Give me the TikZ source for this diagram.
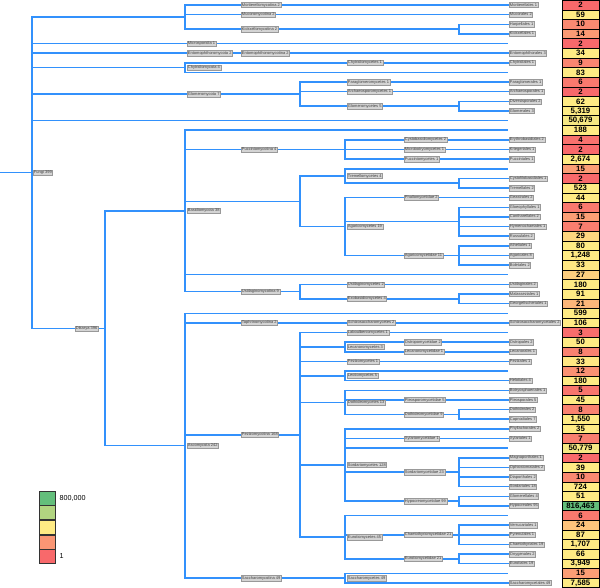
\documentclass[tikz,border=0pt]{standalone}
\usepackage{fontspec}
\setmainfont{Liberation Sans}
\usetikzlibrary{positioning,backgrounds}
\definecolor{treeblue}{RGB}{50,145,252}
\definecolor{cRed}{RGB}{248,105,107}
\definecolor{cYel}{RGB}{255,235,132}
\definecolor{cGrn}{RGB}{99,190,123}
\definecolor{lblgray}{RGB}{212,212,212}
\tikzstyle{branch}=[draw=treeblue,line width=1.5pt,to path={|- (\tikztotarget)}]
\tikzstyle{taxon}=[anchor=west,fill=lblgray,draw=black!40,line width=0.3pt,inner sep=0.8pt,text height=2.9pt,text depth=0.8pt,font=\fontsize{4}{4.5}\selectfont,text=black!75]
\tikzstyle{cnt}=[draw=black,line width=0.6pt,minimum width=37pt,minimum height=9.633pt,inner sep=0pt,font=\fontsize{7.8}{8}\selectfont\bfseries]
\tikzstyle{legbox}=[draw=black!80,line width=0.6pt,minimum width=16pt,minimum height=14pt,inner sep=0pt]
\tikzstyle{legtxt}=[inner sep=0pt,font=\fontsize{7.2}{8}\selectfont]

\begin{document}
\begin{tikzpicture}[x=1pt,y=-9.633pt]
\useasboundingbox (0,0.481) rectangle (600,61.52);

% branch points
\coordinate (root) at (0,18.406);
\coordinate (fungi) at (32,18.406);
\coordinate (mucgrp) at (185,2.25);
\coordinate (kickx) at (459,3.5);
\coordinate (chytrid) at (185,7.5);
\coordinate (glomero) at (300,10.25);
\coordinate (glomcet) at (459,11.5);
\coordinate (dikarya) at (105,34.5625);
\coordinate (basidio) at (185,22.375);
\coordinate (puccinio) at (345,16);
\coordinate (agarico) at (300,21.375);
\coordinate (tremello) at (345,18.75);
\coordinate (tremsub) at (459,19.5);
\coordinate (agaricet) at (345,24);
\coordinate (agarsub) at (459,23.5);
\coordinate (agaridae) at (459,27);
\coordinate (ustilago) at (300,30.75);
\coordinate (exobasid) at (459,31.5);
\coordinate (asco) at (185,46.75);
\coordinate (pezizo) at (300,45.625);
\coordinate (lecano) at (345,36.5);
\coordinate (leotio) at (345,39.5);
\coordinate (dothid) at (345,42.25);
\coordinate (dothdae) at (459,43.5);
\coordinate (sordario) at (345,48.75);
\coordinate (sorddae) at (459,49.5);
\coordinate (hypodae) at (459,52.5);
\coordinate (euroti) at (345,56.25);
\coordinate (chaeto) at (459,56);
\coordinate (eurodae) at (459,58.5);
\coordinate (sacchcet) at (345,60.5);

% rows without an order
\coordinate (u5) at (508,5);
\coordinate (u8) at (508,8);
\coordinate (u13) at (508,13);
\coordinate (u14) at (508,14);
\coordinate (u18) at (508,18);
\coordinate (u29) at (508,29);
\coordinate (u33) at (508,33);
\coordinate (u35) at (508,35);
\coordinate (u39) at (508,39);
\coordinate (u47) at (508,47);
\coordinate (u54) at (508,54);
\coordinate (u60) at (508,60);

% higher taxa
\node[taxon] (fungi-t) at (33,18.406) {Fungi 399};
\node[taxon] (dikarya-t) at (75,34.5625) {Dikarya 396};
\node[taxon] (mort-t) at (241,1) {Mortierellomycotina 2};
\node[taxon] (mucor-t) at (241,2) {Mucoromycotina 2};
\node[taxon] (kickx-t) at (241,3.5) {Kickxellomycotina 2};
\node[taxon] (micro-t) at (187,5) {Microsporidia 1};
\node[taxon] (ento-t) at (187,6) {Entomophthoromycota 2};
\node[taxon] (entotina-t) at (241,6) {Entomophthoromycotina 2};
\node[taxon] (chytrid-t) at (187,7.5) {Chytridiomycota 4};
\node[taxon] (chytcet-t) at (347,7) {Chytridiomycetes 1};
\node[taxon] (glomero-t) at (187,10.25) {Glomeromycota 7};
\node[taxon] (paraglo-t) at (347,9) {Paraglomeromycetes 1};
\node[taxon] (archaeo-t) at (347,10) {Archaeosporomycetes 1};
\node[taxon] (glomcet-t) at (347,11.5) {Glomeromycetes 5};
\node[taxon] (basidio-t) at (187,22.375) {Basidiomycota 38};
\node[taxon] (puccinio-t) at (241,16) {Pucciniomycotina 4};
\node[taxon] (cystob-t) at (404,15) {Cystobasidiomycetes 2};
\node[taxon] (microb-t) at (404,16) {Microbotryomycetes 1};
\node[taxon] (pucccet-t) at (404,17) {Pucciniomycetes 1};
\node[taxon] (tremello-t) at (347,18.75) {Tremellomycetes 4};
\node[taxon] (agaricet-t) at (347,24) {Agaricomycetes 19};
\node[taxon] (phallo-t) at (404,21) {Phallomycetidae 2};
\node[taxon] (agaridae-t) at (404,27) {Agaricomycetidae 11};
\node[taxon] (ustilago-t) at (241,30.75) {Ustilaginomycotina 9};
\node[taxon] (ustcet-t) at (347,30) {Ustilaginomycetes 2};
\node[taxon] (exobasid-t) at (347,31.5) {Exobasidiomycetes 4};
\node[taxon] (asco-t) at (187,46.75) {Ascomycota 242};
\node[taxon] (taphrino-t) at (241,34) {Taphrinomycotina 2};
\node[taxon] (schizo-t) at (347,34) {Schizosaccharomycetes 2};
\node[taxon] (pezizo-t) at (241,45.625) {Pezizomycotina 168};
\node[taxon] (laboul-t) at (347,35) {Laboulbeniomycetes 1};
\node[taxon] (lecano-t) at (347,36.5) {Lecanoromycetes 3};
\node[taxon] (ostropo-t) at (404,36) {Ostropomycetidae 2};
\node[taxon] (lecdae-t) at (404,37) {Lecanoromycetidae 1};
\node[taxon] (pezcet-t) at (347,38) {Pezizomycetes 1};
\node[taxon] (leotio-t) at (347,39.5) {Leotiomycetes 5};
\node[taxon] (dothid-t) at (347,42.25) {Dothideomycetes 13};
\node[taxon] (pleodae-t) at (404,42) {Pleosporomycetidae 5};
\node[taxon] (dothdae-t) at (404,43.5) {Dothideomycetidae 9};
\node[taxon] (sordario-t) at (347,48.75) {Sordariomycetes 128};
\node[taxon] (xyldae-t) at (404,46) {Xylariomycetidae 1};
\node[taxon] (sorddae-t) at (404,49.5) {Sordariomycetidae 23};
\node[taxon] (hypodae-t) at (404,52.5) {Hypocreomycetidae 99};
\node[taxon] (euroti-t) at (347,56.25) {Eurotiomycetes 45};
\node[taxon] (chaeto-t) at (404,56) {Chaetothyriomycetidae 21};
\node[taxon] (eurodae-t) at (404,58.5) {Eurotiomycetidae 21};
\node[taxon] (saccho-t) at (241,60.5) {Saccharomycotina 49};
\node[taxon] (sacchcet-t) at (347,60.5) {Saccharomycetes 49};

% orders
\node[taxon] (Mortierellales) at (509,1) {Mortierellales 1};
\node[taxon] (Mucorales) at (509,2) {Mucorales 2};
\node[taxon] (Harpellales) at (509,3) {Harpellales 1};
\node[taxon] (Kickxellales) at (509,4) {Kickxellales 1};
\node[taxon] (Entomophthorales) at (509,6) {Entomophthorales 3};
\node[taxon] (Chytridiales) at (509,7) {Chytridiales 1};
\node[taxon] (Paraglomerales) at (509,9) {Paraglomerales 1};
\node[taxon] (Archaeosporales) at (509,10) {Archaeosporales 1};
\node[taxon] (Diversisporales) at (509,11) {Diversisporales 2};
\node[taxon] (Glomerales) at (509,12) {Glomerales 3};
\node[taxon] (Erythrobasidiales) at (509,15) {Erythrobasidiales 2};
\node[taxon] (Kriegeriales) at (509,16) {Kriegeriales 1};
\node[taxon] (Pucciniales) at (509,17) {Pucciniales 1};
\node[taxon] (Cystofilobasidiales) at (509,19) {Cystofilobasidiales 1};
\node[taxon] (Tremellales) at (509,20) {Tremellales 2};
\node[taxon] (Geastrales) at (509,21) {Geastrales 2};
\node[taxon] (Gloeophyllales) at (509,22) {Gloeophyllales 1};
\node[taxon] (Cantharellales) at (509,23) {Cantharellales 2};
\node[taxon] (Hymenochaetales) at (509,24) {Hymenochaetales 1};
\node[taxon] (Russulales) at (509,25) {Russulales 2};
\node[taxon] (Atheliales) at (509,26) {Atheliales 1};
\node[taxon] (Agaricales) at (509,27) {Agaricales 8};
\node[taxon] (Boletales) at (509,28) {Boletales 2};
\node[taxon] (Ustilaginales) at (509,30) {Ustilaginales 2};
\node[taxon] (Malasseziales) at (509,31) {Malasseziales 1};
\node[taxon] (Georgefischeriales) at (509,32) {Georgefischeriales 1};
\node[taxon] (Schizosaccharomycetales) at (509,34) {Schizosaccharomycetales 2};
\node[taxon] (Ostropales) at (509,36) {Ostropales 2};
\node[taxon] (Lecanorales) at (509,37) {Lecanorales 1};
\node[taxon] (Pezizales) at (509,38) {Pezizales 1};
\node[taxon] (Helotiales) at (509,40) {Helotiales 4};
\node[taxon] (Botryosphaeriales) at (509,41) {Botryosphaeriales 1};
\node[taxon] (Pleosporales) at (509,42) {Pleosporales 5};
\node[taxon] (Dothideales) at (509,43) {Dothideales 2};
\node[taxon] (Capnodiales) at (509,44) {Capnodiales 7};
\node[taxon] (Phyllachorales) at (509,45) {Phyllachorales 2};
\node[taxon] (Xylariales) at (509,46) {Xylariales 1};
\node[taxon] (Magnaporthales) at (509,48) {Magnaporthales 1};
\node[taxon] (Ophiostomatales) at (509,49) {Ophiostomatales 2};
\node[taxon] (Diaporthales) at (509,50) {Diaporthales 2};
\node[taxon] (Sordariales) at (509,51) {Sordariales 18};
\node[taxon] (Glomerellales) at (509,52) {Glomerellales 4};
\node[taxon] (Hypocreales) at (509,53) {Hypocreales 95};
\node[taxon] (Verrucariales) at (509,55) {Verrucariales 1};
\node[taxon] (Pyrenulales) at (509,56) {Pyrenulales 1};
\node[taxon] (Chaetothyriales) at (509,57) {Chaetothyriales 19};
\node[taxon] (Onygenales) at (509,58) {Onygenales 2};
\node[taxon] (Eurotiales) at (509,59) {Eurotiales 19};
\node[taxon] (Saccharomycetales) at (509,61) {Saccharomycetales 49};

% counts
\node[cnt,fill=cRed] (v1) at (580.5,1) {2};
\node[cnt,fill=cYel] (v2) at (580.5,2) {59};
\node[cnt,fill=cYel!25!cRed] (v3) at (580.5,3) {10};
\node[cnt,fill=cYel!38!cRed] (v4) at (580.5,4) {14};
\node[cnt,fill=cRed] (v5) at (580.5,5) {2};
\node[cnt,fill=cYel] (v6) at (580.5,6) {34};
\node[cnt,fill=cYel!22!cRed] (v7) at (580.5,7) {9};
\node[cnt,fill=cYel] (v8) at (580.5,8) {83};
\node[cnt,fill=cYel!12!cRed] (v9) at (580.5,9) {6};
\node[cnt,fill=cRed] (v10) at (580.5,10) {2};
\node[cnt,fill=cYel] (v11) at (580.5,11) {62};
\node[cnt,fill=cGrn!1!cYel] (v12) at (580.5,12) {5,319};
\node[cnt,fill=cGrn!6!cYel] (v13) at (580.5,13) {50,679};
\node[cnt,fill=cYel] (v14) at (580.5,14) {188};
\node[cnt,fill=cYel!6!cRed] (v15) at (580.5,15) {4};
\node[cnt,fill=cRed] (v16) at (580.5,16) {2};
\node[cnt,fill=cYel] (v17) at (580.5,17) {2,674};
\node[cnt,fill=cYel!41!cRed] (v18) at (580.5,18) {15};
\node[cnt,fill=cRed] (v19) at (580.5,19) {2};
\node[cnt,fill=cYel] (v20) at (580.5,20) {523};
\node[cnt,fill=cYel] (v21) at (580.5,21) {44};
\node[cnt,fill=cYel!12!cRed] (v22) at (580.5,22) {6};
\node[cnt,fill=cYel!41!cRed] (v23) at (580.5,23) {15};
\node[cnt,fill=cYel!16!cRed] (v24) at (580.5,24) {7};
\node[cnt,fill=cYel!84!cRed] (v25) at (580.5,25) {29};
\node[cnt,fill=cYel] (v26) at (580.5,26) {80};
\node[cnt,fill=cYel] (v27) at (580.5,27) {1,248};
\node[cnt,fill=cYel!97!cRed] (v28) at (580.5,28) {33};
\node[cnt,fill=cYel!78!cRed] (v29) at (580.5,29) {27};
\node[cnt,fill=cYel] (v30) at (580.5,30) {180};
\node[cnt,fill=cYel] (v31) at (580.5,31) {91};
\node[cnt,fill=cYel!59!cRed] (v32) at (580.5,32) {21};
\node[cnt,fill=cYel] (v33) at (580.5,33) {599};
\node[cnt,fill=cYel] (v34) at (580.5,34) {106};
\node[cnt,fill=cYel!3!cRed] (v35) at (580.5,35) {3};
\node[cnt,fill=cYel] (v36) at (580.5,36) {50};
\node[cnt,fill=cYel!19!cRed] (v37) at (580.5,37) {8};
\node[cnt,fill=cYel!97!cRed] (v38) at (580.5,38) {33};
\node[cnt,fill=cYel!31!cRed] (v39) at (580.5,39) {12};
\node[cnt,fill=cYel] (v40) at (580.5,40) {180};
\node[cnt,fill=cYel!9!cRed] (v41) at (580.5,41) {5};
\node[cnt,fill=cYel] (v42) at (580.5,42) {45};
\node[cnt,fill=cYel!19!cRed] (v43) at (580.5,43) {8};
\node[cnt,fill=cYel] (v44) at (580.5,44) {1,550};
\node[cnt,fill=cYel] (v45) at (580.5,45) {35};
\node[cnt,fill=cYel!16!cRed] (v46) at (580.5,46) {7};
\node[cnt,fill=cGrn!6!cYel] (v47) at (580.5,47) {50,779};
\node[cnt,fill=cRed] (v48) at (580.5,48) {2};
\node[cnt,fill=cYel] (v49) at (580.5,49) {39};
\node[cnt,fill=cYel!25!cRed] (v50) at (580.5,50) {10};
\node[cnt,fill=cYel] (v51) at (580.5,51) {724};
\node[cnt,fill=cYel] (v52) at (580.5,52) {51};
\node[cnt,fill=cGrn] (v53) at (580.5,53) {816,463};
\node[cnt,fill=cYel!12!cRed] (v54) at (580.5,54) {6};
\node[cnt,fill=cYel!69!cRed] (v55) at (580.5,55) {24};
\node[cnt,fill=cYel] (v56) at (580.5,56) {87};
\node[cnt,fill=cYel] (v57) at (580.5,57) {1,707};
\node[cnt,fill=cYel] (v58) at (580.5,58) {66};
\node[cnt,fill=cYel] (v59) at (580.5,59) {3,949};
\node[cnt,fill=cYel!41!cRed] (v60) at (580.5,60) {15};
\node[cnt,fill=cGrn!1!cYel] (v61) at (580.5,61) {7,585};

% colour key
\node[legbox,fill=cGrn] (leg1) at (47,52.18) {};
\node[legbox,fill=cGrn!50!cYel,below=0pt of leg1] (leg2) {};
\node[legbox,fill=cYel,below=0pt of leg2] (leg3) {};
\node[legbox,fill=cYel!35!cRed,below=0pt of leg3] (leg4) {};
\node[legbox,fill=cRed,below=0pt of leg4] (leg5) {};
\node[legtxt,right=4pt of leg1] (legmax) {800,000};
\node[legtxt,right=4pt of leg5] (legmin) {1};

\begin{scope}[on background layer]
\path
(root) edge[branch] (fungi)

(fungi) edge[branch] (mucgrp)
(fungi) edge[branch] (u5)
(fungi) edge[branch] (Entomophthorales)
(fungi) edge[branch] (chytrid)
(fungi) edge[branch] (glomero)
(fungi) edge[branch] (u13)
(fungi) edge[branch] (dikarya)

(mucgrp) edge[branch] (Mortierellales)
(mucgrp) edge[branch] (Mucorales)
(mucgrp) edge[branch] (kickx)
(kickx) edge[branch] (Harpellales)
(kickx) edge[branch] (Kickxellales)
(chytrid) edge[branch] (Chytridiales)
(chytrid) edge[branch] (u8)
(glomero) edge[branch] (Paraglomerales)
(glomero) edge[branch] (Archaeosporales)
(glomero) edge[branch] (glomcet)
(glomcet) edge[branch] (Diversisporales)
(glomcet) edge[branch] (Glomerales)

(dikarya) edge[branch] (basidio)
(dikarya) edge[branch] (asco)

(basidio) edge[branch] (u14)
(basidio) edge[branch] (puccinio)
(basidio) edge[branch] (agarico)
(basidio) edge[branch] (u29)
(basidio) edge[branch] (ustilago)
(puccinio) edge[branch] (Erythrobasidiales)
(puccinio) edge[branch] (Kriegeriales)
(puccinio) edge[branch] (Pucciniales)
(agarico) edge[branch] (tremello)
(agarico) edge[branch] (agaricet)
(tremello) edge[branch] (u18)
(tremello) edge[branch] (tremsub)
(tremsub) edge[branch] (Cystofilobasidiales)
(tremsub) edge[branch] (Tremellales)
(agaricet) edge[branch] (Geastrales)
(agaricet) edge[branch] (agarsub)
(agaricet) edge[branch] (agaridae)
(agarsub) edge[branch] (Gloeophyllales)
(agarsub) edge[branch] (Cantharellales)
(agarsub) edge[branch] (Hymenochaetales)
(agarsub) edge[branch] (Russulales)
(agaridae) edge[branch] (Atheliales)
(agaridae) edge[branch] (Agaricales)
(agaridae) edge[branch] (Boletales)
(ustilago) edge[branch] (Ustilaginales)
(ustilago) edge[branch] (exobasid)
(exobasid) edge[branch] (Malasseziales)
(exobasid) edge[branch] (Georgefischeriales)

(asco) edge[branch] (u33)
(asco) edge[branch] (Schizosaccharomycetales)
(asco) edge[branch] (pezizo)
(asco) edge[branch] (sacchcet)
(pezizo) edge[branch] (u35)
(pezizo) edge[branch] (lecano)
(pezizo) edge[branch] (Pezizales)
(pezizo) edge[branch] (leotio)
(pezizo) edge[branch] (dothid)
(pezizo) edge[branch] (sordario)
(pezizo) edge[branch] (euroti)
(lecano) edge[branch] (Ostropales)
(lecano) edge[branch] (Lecanorales)
(leotio) edge[branch] (u39)
(leotio) edge[branch] (Helotiales)
(dothid) edge[branch] (Botryosphaeriales)
(dothid) edge[branch] (Pleosporales)
(dothid) edge[branch] (dothdae)
(dothdae) edge[branch] (Dothideales)
(dothdae) edge[branch] (Capnodiales)
(sordario) edge[branch] (Phyllachorales)
(sordario) edge[branch] (Xylariales)
(sordario) edge[branch] (u47)
(sordario) edge[branch] (sorddae)
(sordario) edge[branch] (hypodae)
(sorddae) edge[branch] (Magnaporthales)
(sorddae) edge[branch] (Ophiostomatales)
(sorddae) edge[branch] (Diaporthales)
(sorddae) edge[branch] (Sordariales)
(hypodae) edge[branch] (Glomerellales)
(hypodae) edge[branch] (Hypocreales)
(euroti) edge[branch] (u54)
(euroti) edge[branch] (chaeto)
(euroti) edge[branch] (eurodae)
(chaeto) edge[branch] (Verrucariales)
(chaeto) edge[branch] (Pyrenulales)
(chaeto) edge[branch] (Chaetothyriales)
(eurodae) edge[branch] (Onygenales)
(eurodae) edge[branch] (Eurotiales)
(sacchcet) edge[branch] (u60)
(sacchcet) edge[branch] (Saccharomycetales);
\end{scope}

\end{tikzpicture}
\end{document}
